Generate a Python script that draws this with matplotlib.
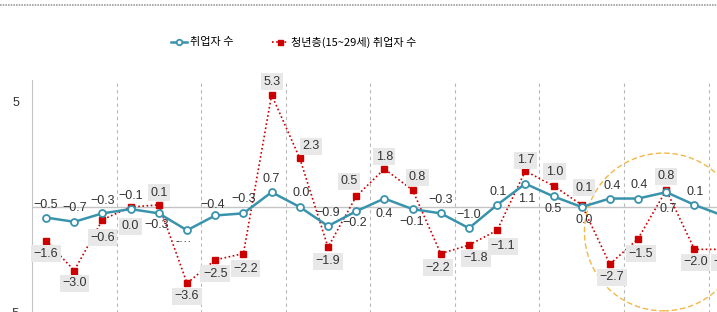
import matplotlib
matplotlib.use("Agg")
import matplotlib.pyplot as plt
from matplotlib.lines import Line2D
from matplotlib.patches import Ellipse

plt.rcParams['font.family'] = ['Noto Sans CJK KR', 'DejaVu Sans']

# data (25 periods; the last one is cut off at the right edge)
periods = list(range(25))
employed = [-0.5, -0.7, -0.3, -0.1, -0.3, -1.1, -0.4, -0.3, 0.7, 0.0, -0.9, -0.2, 0.4,
            -0.1, -0.3, -1.0, 0.1, 1.1, 0.5, 0.0, 0.4, 0.4, 0.7, 0.1, -0.4]
youth = [-1.6, -3.0, -0.6, 0.0, 0.1, -3.6, -2.5, -2.2, 5.3, 2.3, -1.9, 0.5, 1.8,
         0.8, -2.2, -1.8, -1.1, 1.7, 1.0, 0.1, -2.7, -1.5, 0.8, -2.0, -2.0]
employed_labels = ['−0.5', '−0.7', '−0.3', '−0.1', '−0.3', '-···', '−0.4', '−0.3', '0.7', '0.0',
                   '−0.9', '−0.2', '0.4', '−0.1', '−0.3', '−1.0', '0.1', '1.1', '0.5', '0.0',
                   '0.4', '0.4', '0.7', '0.1', '−0.4']
youth_labels = ['−1.6', '−3.0', '−0.6', '0.0', '0.1', '−3.6', '−2.5', '−2.2', '5.3', '2.3',
                '−1.9', '0.5', '1.8', '0.8', '−2.2', '−1.8', '−1.1', '1.7', '1.0', '0.1',
                '−2.7', '−1.5', '0.8', '−2.0', '−2.0']
series_names = ['취업자 수', '청년층(15~29세) 취업자 수']

# label offsets in pixels (dx, dy), positive dy = up
emp_off = [(0, 13), (0, 14), (0, 12), (0, 13), (-2, -12), (-3, -12), (-3, 10), (0, 14), (0, 13), (1, 14),
           (0, 13), (-1, -12), (0, -15), (-1, -13), (0, 13), (0, 13), (1, 13), (1, -15), (0, -13), (2, -13),
           (2, 13), (1, 14), (2, -17), (1, 13), (0, 9)]
youth_off = [(0, -13), (0, -13), (0, -18), (0, -19), (0, 12), (0, -13), (0, -14), (2, -15), (0, 13), (11, 12),
             (0, -14), (-7, 15), (0, 12), (5, 13), (-3, -14), (7, -13), (6, -16), (0, 11), (1, 14), (2, 17),
             (2, -13), (3, -15), (0, 14), (1, -13), (-6, -13)]

BLUE = '#3a93ad'
RED = '#cc0000'
NUM_FONT = ['Liberation Sans', 'DejaVu Sans']

fig = plt.figure(figsize=(7.17, 3.12), dpi=100)
ax = fig.add_axes([32 / 717, 1 - 334 / 312, 1 - 32 / 717, 254 / 312])

ax.set_xlim(-0.5, 23.8)
ax.set_ylim(-6, 6)

for x in [2.5, 5.5, 8.5, 11.5, 14.5, 17.5, 20.5, 23.5]:
    ax.axvline(x, color='#b8b8b8', lw=0.8, ls=(0, (3, 3)), zorder=1)
ax.axhline(0, color='#c4c4c4', lw=1, zorder=1)

ax.plot(periods, youth, color=RED, lw=1.2, ls=(0, (1, 1.5)), marker='s', ms=4.5,
        mfc=RED, mec=RED, zorder=3, label=series_names[1], clip_on=False)
ax.plot(periods, employed, color=BLUE, lw=1.8, marker='o', ms=5, mfc='white',
        mec=BLUE, mew=1.3, zorder=4, label=series_names[0], clip_on=False)

for i in range(24):
    ax.annotate(employed_labels[i], (periods[i], employed[i]), xytext=emp_off[i],
                textcoords='offset pixels', ha='center', va='center', fontsize=9,
                family=NUM_FONT, color='#333333', zorder=6)
    ax.annotate(youth_labels[i], (periods[i], youth[i]), xytext=youth_off[i],
                textcoords='offset pixels', ha='center', va='center', fontsize=9,
                family=NUM_FONT, color='#333333', zorder=6,
                bbox=dict(boxstyle='square,pad=0.2', fc='#e8e8e8', ec='none'))
# cut-off labels on the right edge
ax.annotate('−', (periods[24], employed[24]), xytext=emp_off[24], textcoords='offset pixels',
            ha='center', va='center', fontsize=9, family=NUM_FONT, color='#333333',
            annotation_clip=False)
ax.annotate('−', (periods[24], youth[24]), xytext=youth_off[24], textcoords='offset pixels',
            ha='center', va='center', fontsize=9, family=NUM_FONT, color='#333333',
            annotation_clip=False, bbox=dict(boxstyle='square,pad=0.2', fc='#e8e8e8', ec='none'))

# highlight circle
circ = Ellipse((21.9, -1.18), width=158 / 28.2, height=158 / 21.2, fill=False,
               ec='#f2b84b', lw=1, ls=(0, (4, 2)), zorder=2)
ax.add_patch(circ)

ax.set_yticks([-5, 5])
ax.set_yticklabels(['−5', '5'], family=NUM_FONT)
ax.set_xticks([])
ax.tick_params(axis='y', length=0, labelsize=9, colors='#333333', pad=9)
for s in ['top', 'right', 'bottom']:
    ax.spines[s].set_visible(False)
ax.spines['left'].set_color('#c4c4c4')

fig.legend(handles=[ax.lines[-1], ax.lines[-2]], labels=series_names,
           loc='center', bbox_to_anchor=(0.41, 1 - 42 / 312), ncol=2, frameon=False,
           fontsize=8, handlelength=1.4, columnspacing=3.5, handletextpad=0.3,
           markerscale=0.8)

# page border line at top
fig.add_artist(Line2D([0, 1], [1 - 5 / 312, 1 - 5 / 312], color='#a0a0a0', lw=1.2,
                      ls=(0, (1, 0.6)), transform=fig.transFigure))

fig.savefig('out.png', dpi=100)
